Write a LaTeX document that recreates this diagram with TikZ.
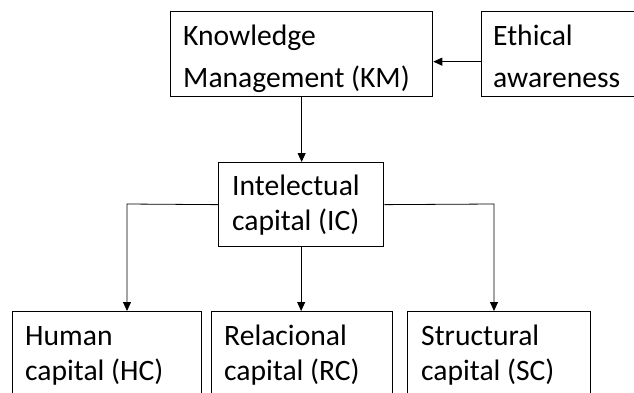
\documentclass[tikz,border=0pt]{standalone}
\usepackage{fontspec}
\setmainfont{Carlito}
\usetikzlibrary{arrows.meta}
\begin{document}
\begin{tikzpicture}[x=1pt,y=1pt,
  boxnode/.style={draw=black, line width=1.3pt, anchor=north west, inner sep=0pt},
  txtA/.style={anchor=base west, inner sep=0pt, font=\fontsize{29.6}{42}\selectfont},
  txtB/.style={anchor=base west, inner sep=0pt, font=\fontsize{29.6}{35}\selectfont},
  conn/.style={draw=black, line width=0.8pt},
  arr/.style={conn, -{Triangle[length=9pt,width=8pt]}}]
\useasboundingbox (0,0) rectangle (634,392);
\fill[white] (0,0) rectangle (634,392);
% boxes
\node[boxnode, minimum width=262pt, minimum height=85pt] (km) at (170,381) {};
\node[boxnode, minimum width=200pt, minimum height=85pt] (eth) at (481,381) {};
\node[boxnode, minimum width=165pt, minimum height=84pt] (ic) at (218,230) {};
\node[boxnode, minimum width=189pt, minimum height=120pt] (hum) at (12,81) {};
\node[boxnode, minimum width=181pt, minimum height=120pt] (rel) at (211,81) {};
\node[boxnode, minimum width=183pt, minimum height=120pt] (str) at (407,81) {};
% texts
\node[txtA] (kmt) at (183,347) {\vtop{\hbox{Knowledge}\hbox{Management (KM)}}};
\node[txtA] (etht) at (493,347) {\vtop{\hbox{Ethical}\hbox{awareness}}};
\node[txtB] (ict) at (232,197) {\vtop{\hbox{Intelectual}\hbox{capital (IC)}}};
\node[txtB] (humt) at (25,47) {\vtop{\hbox{Human}\hbox{capital (HC)}}};
\node[txtB] (relt) at (224,47) {\vtop{\hbox{Relacional}\hbox{capital (RC)}}};
\node[txtB] (strt) at (421,47) {\vtop{\hbox{Structural}\hbox{capital (SC)}}};
% connectors
\coordinate (hl) at (127,188);
\coordinate (hr) at (494,188);
\draw[arr] ([yshift=-7.5pt]eth.west) -- ([yshift=-7.5pt]km.east);
\draw[arr] (km.south) -- (km.south |- ic.north);
\draw[arr] (ic.west) -- (hl) -- (hl |- hum.north);
\draw[arr] (ic.south) -- (ic.south |- rel.north);
\draw[arr] (ic.east) -- (hr) -- (hr |- str.north);
\end{tikzpicture}
\end{document}
